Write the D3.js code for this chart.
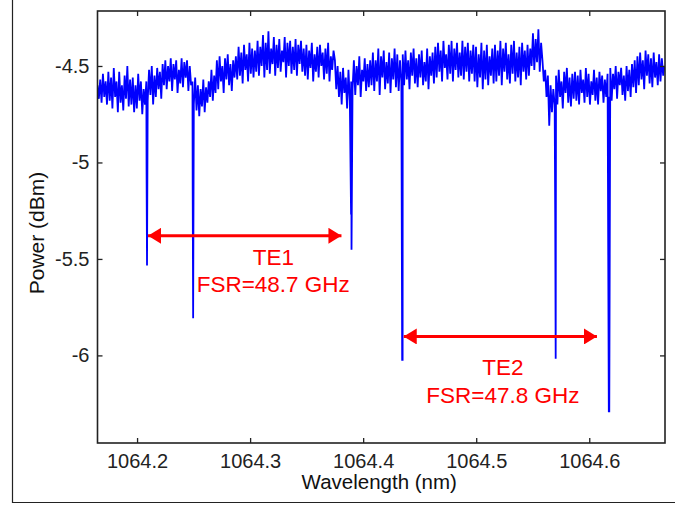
<!DOCTYPE html>
<html>
<head>
<meta charset="utf-8">
<script src="https://cdn.jsdelivr.net/npm/d3@7"></script>
<style>
  body { margin: 0; background: #fff; }
  text { font-family: "Liberation Sans", Arial, sans-serif; }
</style>
</head>
<body>
<svg id="spectrum" width="675" height="505"></svg>
<script>
// OSA trace, sampled every wlStep nm starting at wlStart (dBm)
const wlStart = 1064.165;
const wlStep = 0.0012;
const power = [
  -4.60, -4.67, -4.57, -4.69, -4.54, -4.66, -4.58, -4.70, -4.53, -4.68,
  -4.56, -4.72, -4.51, -4.66, -4.58, -4.74, -4.53, -4.69, -4.60, -4.73, -4.55, -4.67, -4.50, -4.71, -4.57,
  -4.70, -4.56, -4.74, -4.60, -4.72, -4.54, -4.68, -4.58, -4.75, -4.62, -4.70,
  -4.58, -4.68, -4.52, -4.65, -4.50, -4.70, -4.55, -4.66, -4.51, -4.62, -4.53, -4.67, -4.49,
  -4.60, -4.47, -4.62, -4.50, -4.58, -4.46, -4.63, -4.49, -4.57, -4.47, -4.64, -4.52, -4.59, -4.46, -4.61, -4.48, -4.56, -4.47, -4.63, -4.50, -4.60,
  -4.58, -4.70, -4.56, -4.73, -4.60, -4.76, -4.62, -4.71, -4.57, -4.74, -4.61, -4.69, -4.58,
  -4.66, -4.52, -4.68, -4.55, -4.64,
  -4.47, -4.62, -4.45, -4.58, -4.50, -4.64, -4.46, -4.57, -4.44, -4.60, -4.49, -4.63, -4.47, -4.56, -4.45,
  -4.57, -4.40, -4.55, -4.43, -4.59, -4.39, -4.52, -4.44, -4.58, -4.38, -4.54, -4.41, -4.56, -4.42,
  -4.53, -4.37, -4.55, -4.40, -4.50, -4.34, -4.56, -4.38, -4.52, -4.32, -4.54, -4.41, -4.49, -4.35, -4.55, -4.39, -4.51, -4.36,
  -4.53, -4.42, -4.48, -4.35, -4.56, -4.38, -4.50, -4.37, -4.54, -4.40, -4.52, -4.36, -4.55, -4.39, -4.49, -4.37, -4.53, -4.41,
  -4.55, -4.39, -4.57, -4.42, -4.51, -4.38, -4.58, -4.44, -4.53, -4.40, -4.56, -4.39, -4.50, -4.43, -4.57, -4.41, -4.54, -4.38, -4.58, -4.45, -4.52, -4.42,
  -4.47, -4.62, -4.50, -4.66, -4.53, -4.70, -4.51, -4.64, -4.56, -4.72, -4.52, -4.68, -4.58,
  -4.62, -4.47, -4.65, -4.50, -4.60, -4.45, -4.66, -4.52, -4.58, -4.46, -4.63, -4.49, -4.61, -4.47,
  -4.60, -4.43, -4.63, -4.47, -4.58, -4.41, -4.65, -4.45, -4.56, -4.42, -4.62, -4.48, -4.59, -4.43, -4.64, -4.46, -4.57, -4.41, -4.61, -4.44, -4.63, -4.47, -4.58,
  -4.44, -4.60, -4.42, -4.57, -4.47, -4.62, -4.43, -4.55, -4.41, -4.59, -4.46, -4.61, -4.44, -4.56, -4.42, -4.60, -4.48, -4.58, -4.41, -4.62, -4.45, -4.55, -4.43, -4.59,
  -4.40, -4.56, -4.38, -4.53, -4.42, -4.58, -4.37, -4.51, -4.44, -4.57, -4.39, -4.54, -4.37, -4.58, -4.41,
  -4.52, -4.38, -4.56, -4.43, -4.55, -4.37, -4.57, -4.40, -4.53, -4.38, -4.58, -4.42, -4.54, -4.39,
  -4.58, -4.40, -4.61, -4.44, -4.56, -4.38, -4.62, -4.42, -4.57, -4.39, -4.60, -4.45, -4.55, -4.41, -4.59,
  -4.39, -4.58, -4.42, -4.55, -4.37, -4.60, -4.41, -4.53, -4.38, -4.57, -4.44, -4.59, -4.39, -4.54,
  -4.37, -4.58, -4.43, -4.56, -4.40, -4.60, -4.38, -4.53, -4.42, -4.57, -4.39, -4.55, -4.41,
  -4.50, -4.33, -4.52, -4.36, -4.48, -4.31, -4.53, -4.38,
  -4.47, -4.58, -4.52, -4.66, -4.55, -4.81, -4.60, -4.74, -4.62, -4.70,
  -4.55, -4.70, -4.52, -4.66, -4.58, -4.72, -4.53, -4.64, -4.51, -4.69, -4.56, -4.71, -4.54, -4.67,
  -4.53, -4.68, -4.55, -4.70, -4.52, -4.64, -4.57, -4.69, -4.51, -4.66, -4.54, -4.70, -4.58,
  -4.65, -4.52, -4.68, -4.56, -4.70, -4.53, -4.63, -4.55, -4.69, -4.57, -4.66, -4.54,
  -4.66, -4.51, -4.68, -4.54, -4.62, -4.50, -4.67, -4.53, -4.60, -4.51, -4.65, -4.55, -4.68, -4.50, -4.63, -4.52, -4.66, -4.49, -4.61, -4.47, -4.64,
  -4.45, -4.60, -4.43, -4.57, -4.47, -4.62, -4.42, -4.55, -4.44, -4.59, -4.46, -4.61, -4.43, -4.56, -4.48, -4.60, -4.44, -4.58, -4.46, -4.55, -4.50
];

// resonance dips: centre wavelength, deepest point, end of the wide part
const dipWl = [1064.2088, 1064.2496, 1064.3897, 1064.4349, 1064.5703, 1064.6177];
const dipMin = [-5.534, -5.807, -5.453, -6.023, -6.017, -6.294];
const dipShoulder = [-5.04, -5.14, -5.27, -6.023, -5.30, -6.294];

// FSR arrows and their labels
const fsrFrom = [1064.2097, 1064.4359];
const fsrTo = [1064.3808, 1064.6068];
const fsrLevel = [-5.380, -5.902];
const fsrMode = ["TE1", "TE2"];
const fsrText = ["FSR=48.7 GHz", "FSR=47.8 GHz"];
const fsrLabelWl = [1064.3205, 1064.5236];
const fsrModeY = [-5.531, -6.104];
const fsrTextY = [-5.669, -6.245];

const xTicks = [1064.2, 1064.3, 1064.4, 1064.5, 1064.6];
const yTicks = [-4.5, -5, -5.5, -6];

let svg = d3.select("svg#spectrum");

let plotLeft = 97.5, plotRight = 665, plotTop = 11, plotBottom = 443;

const xScale = d3.scaleLinear().domain([1064.165, 1064.667]).range([plotLeft, plotRight]);
const yScale = d3.scaleLinear().domain([-6.454, -4.215]).range([plotBottom, plotTop]);

// outer figure frame (left + bottom only)
svg.append("path")
   .attr("d", "M12.5,0 V502.5 H675")
   .attr("fill", "none")
   .attr("stroke", "#222")
   .attr("stroke-width", 1.2);

// build trace points, dips inserted in order
let trace = power.map((p, i) => ({wl: wlStart + i * wlStep, p: p}));
dipWl.forEach((w, k) => {
    trace.push({wl: w - 0.0004, p: dipShoulder[k]});
    trace.push({wl: w, p: dipMin[k]});
});
trace.sort((a, b) => a.wl - b.wl);

svg.append("clipPath").attr("id", "plotclip")
   .append("rect")
   .attr("x", plotLeft).attr("y", plotTop)
   .attr("width", plotRight - plotLeft).attr("height", plotBottom - plotTop);

let line = d3.line().x(d => xScale(d.wl)).y(d => yScale(d.p));

svg.append("path")
   .datum(trace)
   .attr("clip-path", "url(#plotclip)")
   .attr("d", line)
   .attr("fill", "none")
   .attr("stroke", "#0000ff")
   .attr("stroke-width", 1.8)
   .attr("stroke-linejoin", "miter");

// axes with inward ticks on all sides
let axisColor = "#222";
let bottomAxis = d3.axisBottom(xScale).tickValues(xTicks).tickSizeInner(-5).tickSizeOuter(0)
                   .tickPadding(11).tickFormat(d3.format(".1f"));
let topAxis = d3.axisTop(xScale).tickValues(xTicks).tickSizeInner(-5).tickSizeOuter(0).tickFormat("");
let leftAxis = d3.axisLeft(yScale).tickValues(yTicks).tickSizeInner(-5).tickSizeOuter(0)
                 .tickPadding(8).tickFormat(d => String(d));   // plain hyphen, not U+2212
let rightAxis = d3.axisRight(yScale).tickValues(yTicks).tickSizeInner(-5).tickSizeOuter(0).tickFormat("");

function styleAxis(g) {
    g.select(".domain").remove();
    g.selectAll("line").attr("stroke", axisColor).attr("stroke-width", 1.3);
    g.selectAll("text").attr("fill", "#222").style("font-size", "20px")
     .style("font-family", '"Liberation Sans", Arial, sans-serif');
}

svg.append("g").attr("transform", `translate(0,${plotBottom})`).call(bottomAxis).call(styleAxis);
svg.append("g").attr("transform", `translate(0,${plotTop})`).call(topAxis).call(styleAxis);
svg.append("g").attr("transform", `translate(${plotLeft},0)`).call(leftAxis).call(styleAxis);
svg.append("g").attr("transform", `translate(${plotRight},0)`).call(rightAxis).call(styleAxis);

svg.append("rect")
   .attr("x", plotLeft).attr("y", plotTop)
   .attr("width", plotRight - plotLeft).attr("height", plotBottom - plotTop)
   .attr("fill", "none").attr("stroke", axisColor).attr("stroke-width", 1.6);

// axis titles
svg.append("text")
   .attr("x", (plotLeft + plotRight) / 2 - 2).attr("y", 489)
   .attr("text-anchor", "middle")
   .attr("fill", "#111").style("font-size", "20.5px")
   .text("Wavelength (nm)");

svg.append("text")
   .attr("transform", `translate(43.5,233) rotate(-90)`)
   .attr("text-anchor", "middle")
   .attr("fill", "#111").style("font-size", "21px")
   .text("Power (dBm)");

// FSR annotations
let red = "#ff0000";
svg.append("defs").append("marker")
    .attr("id", "head").attr("viewBox", "0 0 13 16")
    .attr("refX", 13).attr("refY", 8)
    .attr("markerWidth", 13).attr("markerHeight", 16)
    .attr("markerUnits", "userSpaceOnUse")
    .attr("orient", "auto-start-reverse")
    .append("path").attr("d", "M0,0 L13,8 L0,16 Z").attr("fill", red);

fsrMode.forEach((m, k) => {
    svg.append("line")
       .attr("x1", xScale(fsrFrom[k])).attr("x2", xScale(fsrTo[k]))
       .attr("y1", yScale(fsrLevel[k])).attr("y2", yScale(fsrLevel[k]))
       .attr("stroke", red).attr("stroke-width", 3)
       .attr("marker-start", "url(#head)").attr("marker-end", "url(#head)");
    svg.append("text")
       .attr("x", xScale(fsrLabelWl[k])).attr("y", yScale(fsrModeY[k]))
       .attr("text-anchor", "middle").attr("fill", red).style("font-size", "22.5px")
       .text(m);
    svg.append("text")
       .attr("x", xScale(fsrLabelWl[k])).attr("y", yScale(fsrTextY[k]))
       .attr("text-anchor", "middle").attr("fill", red).style("font-size", "22.5px")
       .text(fsrText[k]);
});
</script>
</body>
</html>
